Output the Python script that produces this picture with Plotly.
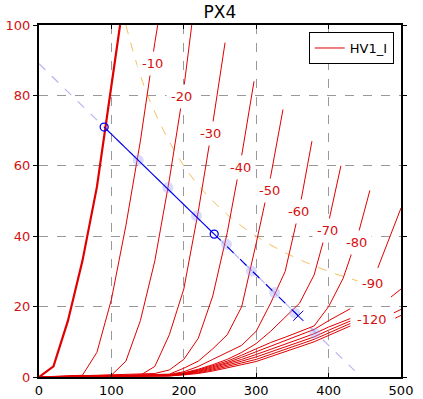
import plotly.graph_objects as go

# ---------------- data ----------------
title_text = "PX4"
legend_name = "HV1_I"

# anode voltage (V) / anode current (mA) for each grid voltage
v_g0 = [0, 20, 40, 60, 80, 100, 112]
i_g0 = [0, 3, 16, 33, 54, 83, 100]

v_g10 = [0, 60, 80, 100, 120, 140, 160, 164]
i_g10 = [0, 0.5, 7, 22, 43, 67, 95, 100]

v_g20 = [0, 100, 120, 140, 160, 180, 200, 211]
i_g20 = [0, 0.5, 4.5, 16, 33, 56, 82, 100]

v_g30 = [0, 140, 160, 180, 200, 220, 240, 257]
i_g30 = [0, 0.5, 3, 12, 25, 47, 72, 95]

v_g40 = [0, 160, 180, 200, 220, 240, 260, 280, 297]
i_g40 = [0, 1, 2, 5, 11, 23, 41, 63, 84]

v_g50 = [0, 180, 200, 220, 240, 260, 280, 300, 320, 337]
i_g50 = [0, 0.8, 2.5, 4.5, 8, 12, 20, 38, 57, 76]

v_g60 = [0, 180, 200, 220, 240, 260, 280, 300, 320, 340, 360, 377]
i_g60 = [0, 0.7, 1.5, 3, 5, 7, 9, 13, 21, 30, 48, 67]

v_g70 = [0, 180, 200, 220, 240, 260, 280, 300, 320, 340, 360, 380, 400, 417]
i_g70 = [0, 0.6, 1.2, 2.2, 3.5, 5, 7, 9.5, 13, 17, 21, 29, 44, 60]

v_g80 = [0, 180, 200, 220, 240, 260, 280, 300, 320, 340, 360, 380, 400, 420, 430, 442, 457]
i_g80 = [0, 0.5, 1.1, 2.0, 3.2, 4.5, 6.2, 8, 9.8, 11.3, 13, 14.5, 20, 28, 34, 41.5, 53]

v_g90 = [0, 180, 200, 220, 240, 260, 280, 300, 320, 340, 360, 380, 400, 430, None, 468, 498, 500]
i_g90 = [0, 0.5, 1.0, 1.8, 2.9, 4.1, 5.6, 7.2, 8.7, 10.2, 11.8, 13.5, 16, 19.4, None, 31, 46.7, 48]

v_g100 = [0, 180, 200, 220, 240, 260, 280, 300, 320, 340, 360, 380, 400, 430, None, 486, 500]
i_g100 = [0, 0.4, 0.9, 1.6, 2.6, 3.7, 5.0, 6.4, 7.8, 9.3, 10.8, 12.3, 14.2, 16.6, None, 22.7, 25]

v_g110 = [0, 180, 200, 220, 240, 260, 280, 300, 320, 340, 360, 380, 400, 430, None, 490, 500]
i_g110 = [0, 0.4, 0.8, 1.4, 2.3, 3.3, 4.5, 5.7, 7.1, 8.5, 9.9, 11.4, 13.3, 15.9, None, 18.2, 19.2]

v_g120 = [0, 180, 200, 220, 240, 260, 280, 300, 320, 340, 360, 380, 400, 430, None, 492, 500]
i_g120 = [0, 0.3, 0.7, 1.2, 2.0, 2.9, 4.0, 5.0, 6.4, 7.8, 9.2, 10.7, 12.5, 15.2, None, 16.7, 17.5]

v_g130 = [0, 180, 200, 220, 240, 260, 280, 300, 320, 340, 360, 380, 400, 430]
i_g130 = [0, 0.3, 0.6, 1.0, 1.7, 2.5, 3.5, 4.4, 5.8, 7.2, 8.6, 10, 11.8, 14.5]

# curve labels
label_text = ["-10", "-20", "-30", "-40", "-50", "-60", "-70", "-80", "-90", "-120"]
label_v = [157, 197, 237, 278, 318, 358, 398, 439, 460, 460]
label_i = [89, 79.7, 69.3, 59.5, 53, 47, 41.7, 38.2, 26.6, 16.2]

# maximum dissipation curve (dashed orange)
pmax_v = [120, 150, 200, 250, 300, 350, 400, 450, 482]
pmax_i = [100, 80, 60, 48, 40, 34.3, 30, 26.7, 24.9]

# load line
load_v = [0, 436]
load_i = [89, 1.8]
op_v = [90, 242]
op_i = [71, 40.6]
swing_v = [242, 358]
swing_i = [40.6, 17.4]
end_v = [358]
end_i = [17.4]
cross_v = [137, 178, 217.5, 259, 293.4, 325.5, 353, 381]
cross_i = [61.6, 53.8, 45.8, 37.7, 30.1, 24, 18.2, 12.4]

x_ticks = [0, 100, 200, 300, 400, 500]
y_ticks = [0, 20, 40, 60, 80, 100]

# ---------------- figure ----------------
RED = "#e00000"
RED_TXT = "#d41010"
fig = go.Figure()

thin_curves = [
    (v_g10, i_g10), (v_g20, i_g20), (v_g30, i_g30), (v_g40, i_g40),
    (v_g50, i_g50), (v_g60, i_g60), (v_g70, i_g70), (v_g80, i_g80),
    (v_g90, i_g90), (v_g100, i_g100), (v_g110, i_g110), (v_g120, i_g120),
    (v_g130, i_g130),
]

# load line, light dashed
fig.add_trace(go.Scatter(x=load_v, y=load_i, mode="lines",
                         line=dict(color="rgba(150,150,235,0.7)", width=1.2, dash="dash"),
                         showlegend=False, hoverinfo="skip"))
# dissipation curve
fig.add_trace(go.Scatter(x=pmax_v, y=pmax_i, mode="lines", line_shape="spline",
                         line=dict(color="#f5c060", width=1, dash="dash"),
                         showlegend=False, hoverinfo="skip"))

for k, (vv, ii) in enumerate(thin_curves):
    fig.add_trace(go.Scatter(x=vv, y=ii, mode="lines",
                             line=dict(color=RED, width=1),
                             name=legend_name, showlegend=(k == 0),
                             connectgaps=False, hoverinfo="skip"))

fig.add_trace(go.Scatter(x=v_g0, y=i_g0, mode="lines",
                         line=dict(color=RED, width=2.2),
                         showlegend=False, hoverinfo="skip"))

# intersections (faint)
fig.add_trace(go.Scatter(x=cross_v, y=cross_i, mode="markers",
                         marker=dict(color="rgba(150,150,255,0.35)", size=11),
                         showlegend=False, hoverinfo="skip"))
# swing, dashed blue
fig.add_trace(go.Scatter(x=swing_v, y=swing_i, mode="lines",
                         line=dict(color="#0000dd", width=1.2, dash="dash"),
                         showlegend=False, hoverinfo="skip"))
fig.add_trace(go.Scatter(x=end_v, y=end_i, mode="markers",
                         marker=dict(symbol="x-thin-open", color="#0000dd", size=10,
                                     line=dict(color="#0000dd", width=1)),
                         showlegend=False, hoverinfo="skip"))
# operating segment
fig.add_trace(go.Scatter(x=op_v, y=op_i, mode="lines+markers",
                         line=dict(color="#0000ee", width=1.2),
                         marker=dict(symbol="circle-open", size=8, color="#0000ee",
                                     line=dict(width=1.3)),
                         showlegend=False, hoverinfo="skip"))

for t, xv, yv in zip(label_text, label_v, label_i):
    fig.add_annotation(x=xv, y=yv, text=t, showarrow=False,
                       font=dict(family="DejaVu Sans", size=13, color=RED_TXT),
                       bgcolor="white", borderpad=4)

fig.update_layout(
    width=423, height=399,
    margin=dict(l=39, r=22, t=25, b=22, autoexpand=False),
    paper_bgcolor="white", plot_bgcolor="white",
    font=dict(family="DejaVu Sans", size=13, color="black"),
    title=dict(text=title_text, x=0.52, xanchor="center", y=0.969, yanchor="middle",
               font=dict(size=17, color="black"), automargin=False),
    legend=dict(x=0.98, y=0.98, xanchor="right", yanchor="top",
                bgcolor="white", bordercolor="black", borderwidth=1,
                font=dict(size=13), itemwidth=30, tracegroupgap=0),
)
fig.update_xaxes(range=[0, 500], tickvals=x_ticks, showline=True, linecolor="black",
                 linewidth=2, mirror="ticks", ticks="inside", ticklen=4,
                 tickcolor="black", showgrid=True, gridcolor="#999999",
                 griddash="dash", gridwidth=1, zeroline=False, automargin=False,
                 tickfont=dict(color="black", size=13))
fig.update_yaxes(range=[0, 100], tickvals=y_ticks, showline=True, linecolor="black",
                 linewidth=2, mirror="ticks", ticks="outside", ticklen=4,
                 tickcolor="black", showgrid=True, gridcolor="#999999",
                 griddash="dash", gridwidth=1, zeroline=False, automargin=False,
                 tickfont=dict(color=RED_TXT, size=13))

fig.write_html("out.html", config={"displayModeBar": False, "staticPlot": True},
               post_script="document.body.style.margin='0';document.body.style.overflow='hidden';")
